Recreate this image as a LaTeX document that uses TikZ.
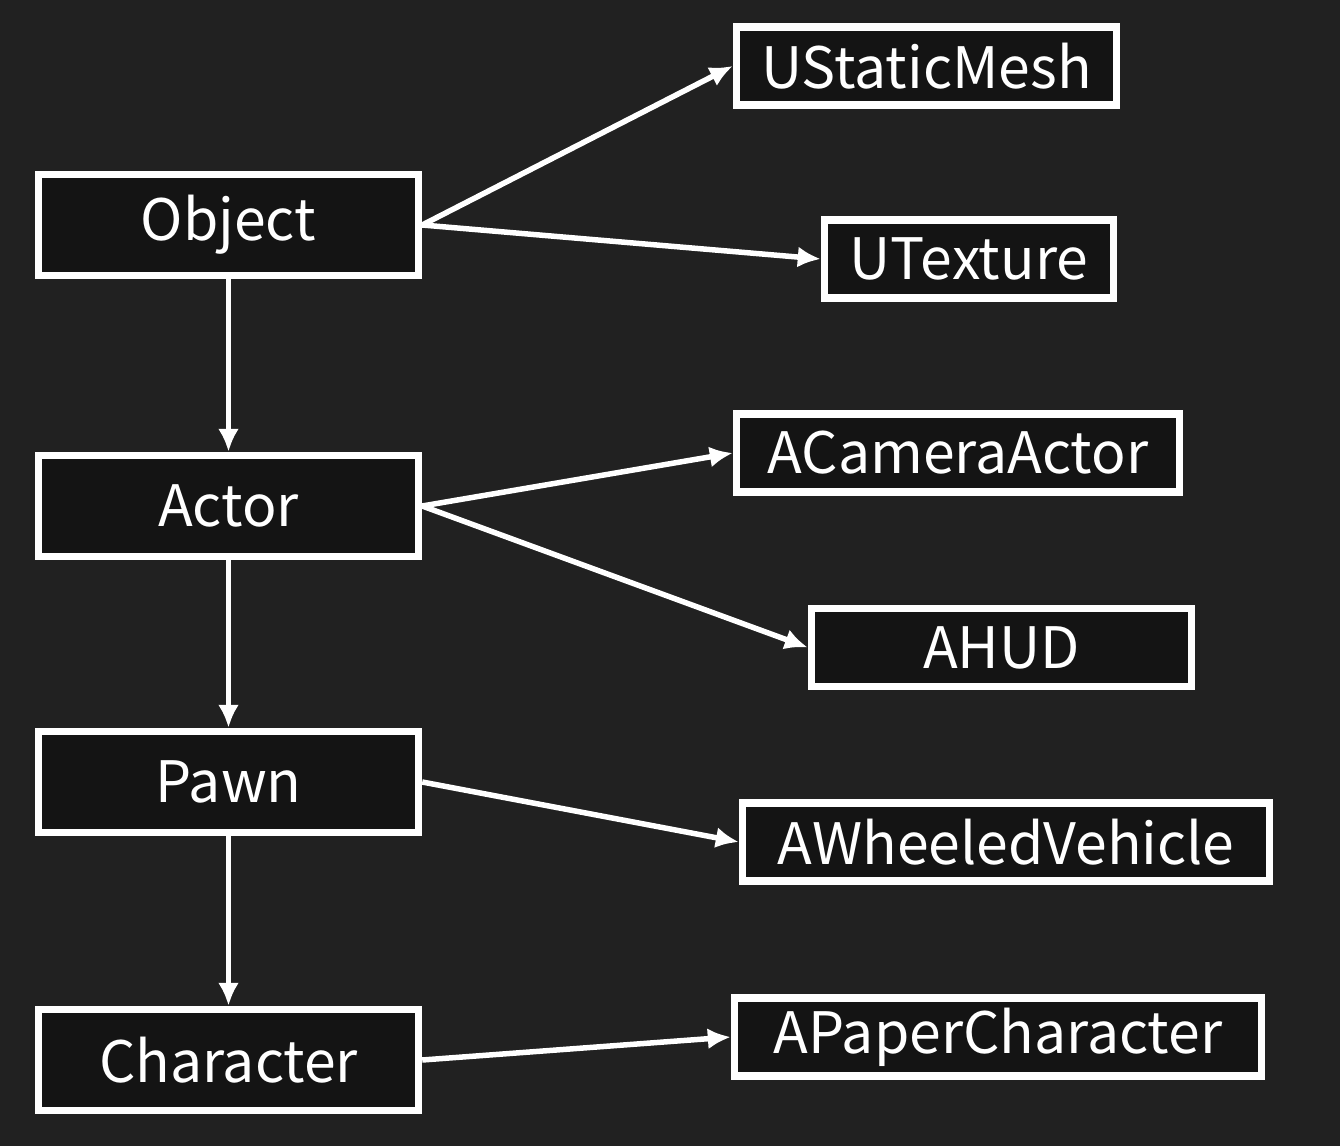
\documentclass[tikz,border=0pt]{standalone}
\usepackage{fontspec}
\setmainfont{Noto Sans CJK SC}
\usetikzlibrary{arrows.meta}
\definecolor{board}{HTML}{212121}
\definecolor{boxfill}{HTML}{141414}
\begin{document}
\begin{tikzpicture}[
	x=0.02cm, y=-0.02cm,
	every node/.style={text=white, font=\fontsize{32.5}{36}\selectfont},
	classbox/.style={shape=rectangle, draw=white, fill=boxfill, line width=0.15cm, inner sep=0pt},
	bigbox/.style={classbox, minimum width=7.6cm, minimum height=2.02cm},
	smallbox/.style={classbox, minimum height=1.56cm},
	inherit/.style={draw=white, line width=0.11cm, -{Latex[length=0.46cm,width=0.42cm]}},
]
\fill[board] (0,0) rectangle (1340,1146);
\useasboundingbox (0,0) rectangle (1340,1146);

\node[bigbox] (obj) at (228.5,225) {Object};
\node[bigbox] (actor) at (228.5,506) {Actor};
\node[bigbox] (pawn) at (228.5,782) {Pawn};
\node[bigbox] (character) at (228.5,1060) {Character};

\node[smallbox, minimum width=7.6cm] (mesh) at (926.5,66) {UStaticMesh};
\node[smallbox, minimum width=5.78cm] (texture) at (969,259) {UTexture};
\node[smallbox, minimum width=8.86cm] (camera) at (958,453) {ACameraActor};
\node[smallbox, minimum width=7.6cm] (hud) at (1001.5,647.5) {AHUD};
\node[smallbox, minimum width=10.54cm] (vehicle) at (1006,842) {AWheeledVehicle};
\node[smallbox, minimum width=10.54cm] (paperchar) at (998,1037) {APaperCharacter};

\draw[inherit] (obj.south) -- (actor.north);
\draw[inherit] (actor.south) -- (pawn.north);
\draw[inherit] (pawn.south) -- (character.north);
\draw[inherit] (obj.east) -- (mesh.west);
\draw[inherit] (obj.east) -- (texture.west);
\draw[inherit] (actor.east) -- (camera.west);
\draw[inherit] (actor.east) -- (hud.west);
\draw[inherit] (pawn.east) -- (vehicle.west);
\draw[inherit] (character.east) -- (paperchar.west);
\end{tikzpicture}
\end{document}
